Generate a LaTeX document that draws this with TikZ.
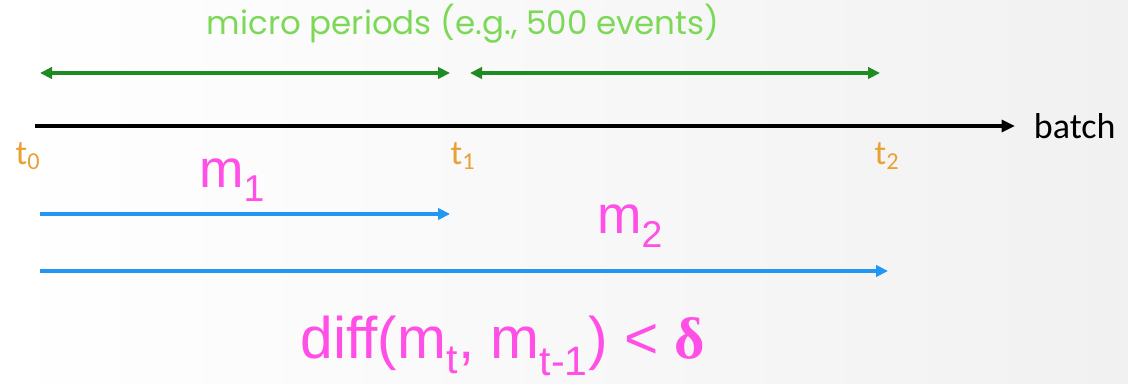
\documentclass[tikz,border=0pt]{standalone}
\usepackage{fontspec}
\setmainfont{Liberation Sans}
\newfontfamily\calfont{Carlito}
\newfontfamily\notefont{Poppins}
\newfontfamily\deltafont{Liberation Serif}
\usetikzlibrary{arrows.meta,positioning}
\definecolor{spangreen}{HTML}{1E8C22}
\definecolor{notegreen}{HTML}{7CD957}
\definecolor{tickorange}{HTML}{E9A133}
\definecolor{runblue}{HTML}{2196F3}
\definecolor{modelpink}{HTML}{FF4FE6}
\definecolor{bgedge}{HTML}{F1F1F1}
\tikzset{
  span/.style={{Triangle[length=9pt,width=8.5pt]}-{Triangle[length=9pt,width=8.5pt]},line width=2.3pt,color=spangreen},
  axis/.style={-{Triangle[length=10pt,width=9pt]},line width=2.3pt,color=black},
  run/.style={-{Triangle[length=9pt,width=8.5pt]},line width=2.3pt,color=runblue},
  ticklabel/.style={font=\calfont\fontsize{26}{28}\selectfont,text=tickorange,inner sep=0pt},
  model/.style={font=\fontsize{40}{44}\selectfont,text=modelpink,inner sep=0pt},
}

\begin{document}
\begin{tikzpicture}[x=0.75pt,y=-0.75pt]
  % background
  \shade[left color=white,right color=bgedge] (0,0) rectangle (1128,384);
  \useasboundingbox (0,0) rectangle (1128,384);

  % time axis
  \coordinate (a0) at (35,126);
  \coordinate (a1) at (1015,126);
  \draw[axis] (a0) -- (a1);
  \node[font=\calfont\fontsize{27}{30}\selectfont,anchor=west,inner sep=0pt,right=14pt of a1] (batch) {batch};

  \node[ticklabel] (t0) at (28,156) {t\textsubscript{0}};
  \node[ticklabel] (t1) at (463,156) {t\textsubscript{1}};
  \node[ticklabel] (t2) at (887,156) {t\textsubscript{2}};

  % micro periods
  \node[font=\notefont\fontsize{24.4}{26}\selectfont,text=notegreen] (note) at (463,24) {micro periods (e.g., 500 events)};
  \coordinate (g0) at (40,73);
  \coordinate (g1) at (450,73);
  \coordinate (g2) at (470,73);
  \coordinate (g3) at (880,73);
  \draw[span] (g0) -- (g1);
  \draw[span] (g2) -- (g3);

  % models
  \node[model] (m1) at (232,180) {m\textsubscript{1}};
  \node[model] (m2) at (630,226) {m\textsubscript{2}};
  \coordinate (r0) at (40,214);
  \coordinate (r1) at (450,214);
  \coordinate (s0) at (40,271);
  \coordinate (s1) at (888,271);
  \draw[run] (r0) -- (r1);
  \draw[run] (s0) -- (s1);

  \node[model,font=\fontsize{44}{48}\selectfont] (cond) at (503,346) {diff(m\textsubscript{t}, m\textsubscript{t-1}) < {\deltafont\bfseries δ}};
\end{tikzpicture}
\end{document}
